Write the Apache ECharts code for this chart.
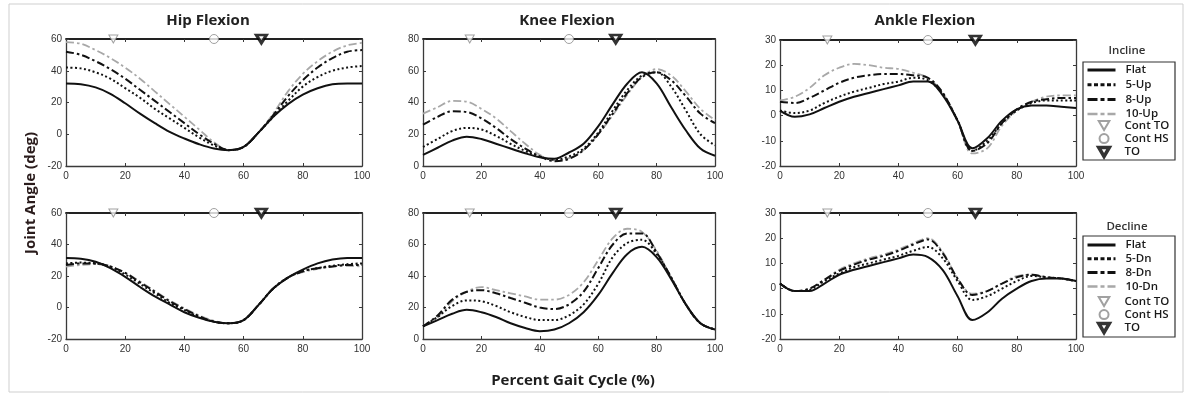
<!DOCTYPE html>
<html>
<head>
<meta charset="utf-8">
<script src="https://cdn.jsdelivr.net/npm/echarts@6/dist/echarts.min.js"></script>
<style>
  html, body { margin: 0; padding: 0; background: #fff; }
  #c { width: 1185px; height: 395px; }
</style>
</head>
<body>
<div id="c"></div>
<script>
// Percent of gait cycle at which every curve is sampled
const pct = [0, 5, 10, 15, 20, 25, 30, 35, 40, 45, 50, 55, 60, 65, 70, 75, 80, 85, 90, 95, 100];

// Gait events (percent gait cycle)
const contTO = 16;
const contHS = 50;
const toPct = 66;

// Hip flexion (deg) - incline
const hipIncFlat = [32, 31.5, 29.5, 25.5, 19.5, 13, 7, 1.5, -2.7, -6.3, -9, -10, -8, 1, 11, 19, 25, 29, 31.5, 32, 32];
const hipInc5 = [42, 41.5, 39, 35, 29, 23, 16, 10, 4, -2, -7, -10, -8, 1, 11, 21, 30, 36, 40, 42, 43];
const hipInc8 = [52, 50, 46, 41, 35, 28, 21, 14, 7, 0, -6, -10, -8, 1, 12, 24, 34, 42, 48, 52, 53];
const hipInc10 = [58, 57, 53, 48, 42, 35, 27, 19, 11, 3, -5, -10, -8, 1, 13, 27, 38, 46, 52, 56, 57.5];
// Hip flexion (deg) - decline
const hipDecFlat = [31.5, 31, 29, 25, 19.5, 13, 7, 2, -3, -6.5, -9, -10, -8, 1.5, 12, 19, 24, 28, 30.5, 31.5, 31.5];
const hipDec5 = [28, 28.5, 28, 26, 21, 15, 9, 3, -1.5, -6, -9, -10, -8, 1.5, 12, 19, 23, 25, 26.5, 27.5, 28];
const hipDec8 = [27, 28, 28, 26, 22, 16, 10, 4, -1, -5.5, -9, -10, -8, 1.5, 12, 19, 23, 25, 26, 27, 27];
const hipDec10 = [26, 27, 27.5, 26, 22, 16.5, 10.5, 4.5, -0.5, -5, -8.5, -10, -8, 1.5, 12, 19, 22.5, 24.5, 26, 26.5, 26];

// Knee flexion (deg) - incline
const kneeIncFlat = [7, 11.5, 16, 18.5, 17, 14, 11, 8, 5.5, 4.5, 8.5, 14, 25, 39, 52, 59, 52, 37, 22.5, 11, 6.5];
const kneeInc5 = [12, 17, 22, 24, 23, 19, 14, 9.5, 6, 4, 6, 11, 21, 35, 48, 57, 59, 50, 35, 20, 13];
const kneeInc8 = [26, 31, 34.5, 34, 30, 24, 17, 11, 6, 3, 4.5, 10, 20, 33, 46, 56, 59, 54, 44, 33, 27];
const kneeInc10 = [33, 37, 41, 40.5, 36, 30, 22, 14, 7, 3.5, 5, 10, 20, 32, 45, 56, 61, 57, 47, 36, 29];
// Knee flexion (deg) - decline
const kneeDecFlat = [8, 12, 16, 18.5, 17, 14, 10, 7, 5, 6, 10, 17, 28, 42, 54, 58.5, 52, 38, 22, 10, 6];
const kneeDec5 = [8, 14, 21, 24.5, 24, 21, 17, 14, 12, 12, 15, 22, 35, 52, 61, 63, 54, 39, 22, 10, 6];
const kneeDec8 = [8, 15, 25, 30, 31, 29, 26, 23, 20, 19, 22, 30, 45, 60, 67, 67, 55, 39, 22, 10, 6];
const kneeDec10 = [8, 14, 24, 30, 33, 31, 29, 27, 25, 25, 28, 36, 50, 64, 70, 68, 56, 39, 22, 10, 6];

// Ankle flexion (deg) - incline
const ankleIncFlat = [2, -0.5, 0.5, 3, 5.5, 7.5, 9, 10.5, 12, 13.5, 13.5, 8, -2, -13, -9, -2, 2.5, 4, 4, 3.5, 3];
const ankleInc5 = [2, 1, 2, 5, 7.5, 9.5, 11, 12.5, 13.5, 15, 14, 8.5, -2, -14, -10, -3, 2, 5, 6, 6, 6];
const ankleInc8 = [5.5, 5, 7, 10, 13, 15, 16, 16.5, 16.5, 16, 15, 9, -2, -14, -11, -3, 2.5, 5.5, 6.5, 7, 7];
const ankleInc10 = [6, 7.5, 11, 16, 19, 20.5, 20, 19, 18.5, 17, 15, 9, -2, -15, -13, -4, 2, 5.5, 7.5, 8, 8];
// Ankle flexion (deg) - decline
const ankleDecFlat = [2, -1, -1, 2, 5.5, 7.5, 9, 10.5, 12, 13.5, 12.5, 7.3, -3, -12.5, -9.5, -4, 0, 3, 4, 4, 3];
const ankleDec5 = [2, -1, -0.5, 3, 6, 8.5, 10, 11.5, 13, 15, 16.5, 12, 3, -4.5, -3, 0, 3, 5, 4.5, 4, 3];
const ankleDec8 = [2, -1, 0, 3.5, 7, 9.5, 11.5, 13, 15, 17.5, 19.5, 14, 4, -2.5, -1, 2, 4.5, 5.5, 4.5, 4, 3];
const ankleDec10 = [2, -1, 0, 3.5, 7.5, 10, 12, 13.5, 15.5, 18, 20, 14.5, 4, -2, -1, 2, 5, 5.5, 4.5, 4, 3];

// Panel titles, condition names, axis titles
const jointTitles = ['Hip Flexion', 'Knee Flexion', 'Ankle Flexion'];
const inclineNames = ['Flat', '5-Up', '8-Up', '10-Up'];
const declineNames = ['Flat', '5-Dn', '8-Dn', '10-Dn'];
const eventNames = ['Cont TO', 'Cont HS', 'TO'];
const yTitle = 'Joint Angle (deg)';
const xTitle = 'Percent Gait Cycle (%)';

// y-axis scales per joint: [min, max, interval]
const hipScale = [-20, 60, 20];
const kneeScale = [0, 80, 20];
const ankleScale = [-20, 30, 10];

const panels = [
  { data: [hipIncFlat, hipInc5, hipInc8, hipInc10], names: inclineNames, scale: hipScale },
  { data: [kneeIncFlat, kneeInc5, kneeInc8, kneeInc10], names: inclineNames, scale: kneeScale },
  { data: [ankleIncFlat, ankleInc5, ankleInc8, ankleInc10], names: inclineNames, scale: ankleScale },
  { data: [hipDecFlat, hipDec5, hipDec8, hipDec10], names: declineNames, scale: hipScale },
  { data: [kneeDecFlat, kneeDec5, kneeDec8, kneeDec10], names: declineNames, scale: kneeScale },
  { data: [ankleDecFlat, ankleDec5, ankleDec8, ankleDec10], names: declineNames, scale: ankleScale }
];

const boxes = [
  { left: 66, top: 39, width: 296, height: 127 },
  { left: 423, top: 39, width: 292, height: 127 },
  { left: 780, top: 40, width: 296, height: 126 },
  { left: 66, top: 213, width: 296, height: 126 },
  { left: 423, top: 213, width: 292, height: 126 },
  { left: 780, top: 213, width: 296, height: 126 }
];

const lineStyles = [
  { color: '#111', width: 2, type: 'solid' },
  { color: '#111', width: 2, type: [2, 2.5] },
  { color: '#111', width: 2, type: [8, 3, 2.5, 3] },
  { color: '#a8a8a8', width: 1.8, type: [8, 3, 2.5, 3] }
];
// Thicker strokes for the legend samples
const legendStrokes = [
  { width: 3, type: 'solid' },
  { width: 3, type: [4, 2.5] },
  { width: 3, type: [10, 3, 4, 3] },
  { width: 2.5, type: [10, 3, 4, 3] }
];

const labelFont = { color: '#333', fontSize: 10, fontFamily: 'Liberation Sans' };
const axisLineCol = '#3a3a3a';

const grid = [], xAxis = [], yAxis = [], series = [];

boxes.forEach((b, i) => {
  grid.push(Object.assign({ containLabel: false }, b));
  const sc = panels[i].scale;
  const tick = { show: true, inside: true, length: 3, lineStyle: { color: axisLineCol } };
  xAxis.push({
    gridIndex: i, type: 'value', min: 0, max: 100, interval: 20,
    axisLine: { onZero: false, lineStyle: { color: axisLineCol, width: 1.3 } },
    axisTick: tick,
    axisLabel: Object.assign({ margin: 5 }, labelFont),
    splitLine: { show: false }
  });
  xAxis.push({
    gridIndex: i, type: 'value', position: 'top', min: 0, max: 100, interval: 20,
    axisLine: { onZero: false, lineStyle: { color: '#222', width: 1.8 } },
    axisTick: tick,
    axisLabel: { show: false },
    splitLine: { show: false }
  });
  yAxis.push({
    gridIndex: i, type: 'value', min: sc[0], max: sc[1], interval: sc[2],
    axisLine: { show: true, onZero: false, lineStyle: { color: axisLineCol, width: 1.3 } },
    axisTick: tick,
    axisLabel: Object.assign({ margin: 4 }, labelFont),
    splitLine: { show: false }
  });
  yAxis.push({
    gridIndex: i, type: 'value', position: 'right', min: sc[0], max: sc[1], interval: sc[2],
    axisLine: { show: true, onZero: false, lineStyle: { color: axisLineCol, width: 1.3 } },
    axisTick: tick,
    axisLabel: { show: false },
    splitLine: { show: false }
  });

  panels[i].data.forEach((arr, k) => {
    series.push({
      name: panels[i].names[k], type: 'line',
      xAxisIndex: 2 * i, yAxisIndex: 2 * i,
      data: pct.map((x, j) => [x, arr[j]]),
      smooth: 0.35, symbol: 'none',
      lineStyle: lineStyles[k],
      itemStyle: { color: lineStyles[k].color },
      z: 5 - k,
      silent: true
    });
  });

  const top = sc[1];
  series.push({
    name: eventNames[0], type: 'scatter', xAxisIndex: 2 * i, yAxisIndex: 2 * i,
    data: [[contTO, top]], symbol: 'triangle', symbolRotate: 180, symbolSize: [9, 8],
    itemStyle: { color: '#fff', borderColor: '#8a8a8a', borderWidth: 1 }, clip: false, z: 10, silent: true
  });
  series.push({
    name: eventNames[1], type: 'scatter', xAxisIndex: 2 * i, yAxisIndex: 2 * i,
    data: [[contHS, top]], symbol: 'circle', symbolSize: 9,
    itemStyle: { color: '#fff', borderColor: '#8a8a8a', borderWidth: 1 }, clip: false, z: 10, silent: true
  });
  series.push({
    name: eventNames[2], type: 'scatter', xAxisIndex: 2 * i, yAxisIndex: 2 * i,
    data: [[toPct, top]], symbol: 'triangle', symbolRotate: 180, symbolSize: [10, 8],
    itemStyle: { color: '#fff', borderColor: '#000', borderWidth: 3 }, clip: false, z: 11, silent: true
  });
});

const legendText = { fontFamily: 'Open Sans', fontSize: 11.5, fontWeight: 600, color: '#1a1a1a' };
const downTriangle = 'path://M0,0L10,0L5,8.5Z';

// Line entries of a legend block (no symbol, just the stroke)
function lineLegend(names, top, gap) {
  return {
    orient: 'vertical', left: 1086, top: top,
    data: names.map((n, k) => ({ name: n, itemStyle: { opacity: 0 }, lineStyle: legendStrokes[k] })),
    selectedMode: false,
    itemWidth: 28, itemHeight: 10, itemGap: gap,
    padding: 0,
    textStyle: Object.assign({ padding: [0, 0, 0, 5] }, legendText)
  };
}
// Event-marker entries of a legend block
function eventLegend(top) {
  return {
    orient: 'vertical', left: 1097, top: top,
    data: [
      { name: eventNames[0], icon: downTriangle },
      { name: eventNames[1], icon: 'circle' },
      { name: eventNames[2], icon: downTriangle, itemStyle: { borderWidth: 3.5 } }
    ],
    selectedMode: false,
    itemWidth: 11, itemHeight: 9, itemGap: 1.1,
    padding: 0,
    textStyle: Object.assign({ padding: [0, 0, 0, 10] }, legendText)
  };
}

const textCommon = { fontFamily: 'Open Sans', fontWeight: 'bold', fill: '#222', textAlign: 'center', textVerticalAlign: 'middle' };
const legendBox = { fill: '#fff', stroke: '#333', lineWidth: 1.2 };

const graphic = [
  { type: 'rect', shape: { x: 9, y: 4, width: 1174, height: 388 }, style: { fill: 'none', stroke: '#cfcfcf', lineWidth: 1 }, z: -1, silent: true },
  { type: 'rect', shape: { x: 1083, y: 62, width: 92, height: 98 }, style: legendBox, z: -1, silent: true },
  { type: 'rect', shape: { x: 1083, y: 236, width: 92, height: 101 }, style: legendBox, z: -1, silent: true },
  { type: 'text', x: 208, y: 21, style: Object.assign({ text: jointTitles[0], fontSize: 15 }, textCommon) },
  { type: 'text', x: 567, y: 21, style: Object.assign({ text: jointTitles[1], fontSize: 15 }, textCommon) },
  { type: 'text', x: 925, y: 21, style: Object.assign({ text: jointTitles[2], fontSize: 15 }, textCommon) },
  { type: 'text', x: 1127, y: 51, style: Object.assign({}, textCommon, { text: 'Incline', fontSize: 11.5, fontWeight: 600, fill: '#333' }) },
  { type: 'text', x: 1127, y: 227, style: Object.assign({}, textCommon, { text: 'Decline', fontSize: 11.5, fontWeight: 600, fill: '#333' }) },
  { type: 'text', x: 573, y: 381, style: Object.assign({}, textCommon, { text: xTitle, fontSize: 15, fill: '#1e1e1e' }) },
  { type: 'text', x: 31, y: 193, rotation: Math.PI / 2, style: Object.assign({}, textCommon, { text: yTitle, fontSize: 15, fill: '#2a1c1c' }) }
];

const chart = echarts.init(document.getElementById('c'), null, { renderer: 'canvas' });
chart.setOption({
  animation: false,
  backgroundColor: '#fff',
  grid: grid,
  xAxis: xAxis,
  yAxis: yAxis,
  legend: [
    lineLegend(inclineNames, 64, 2.7), eventLegend(119.5),
    lineLegend(declineNames, 239, 1.8), eventLegend(295.5)
  ],
  series: series,
  graphic: graphic
});
</script>
</body>
</html>
